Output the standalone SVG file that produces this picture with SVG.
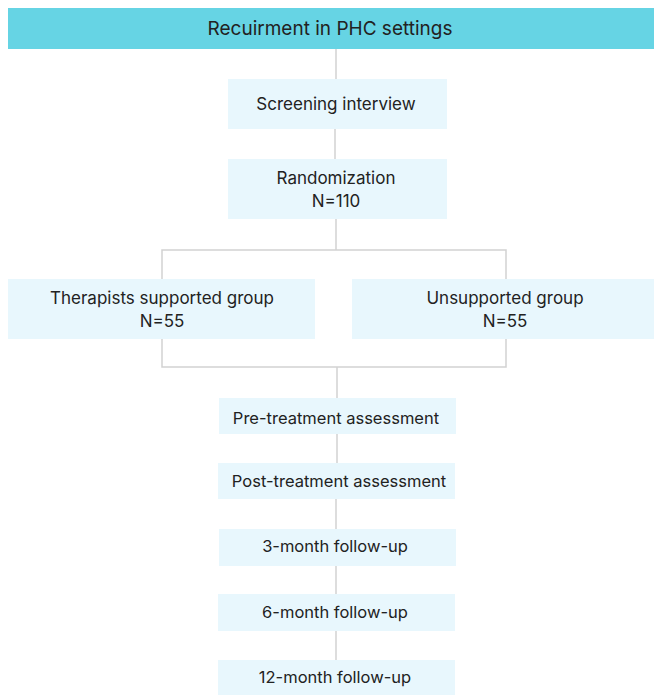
<svg xmlns="http://www.w3.org/2000/svg" width="654" height="695" viewBox="0 0 654 695">
<style>
.box{fill:#E8F7FD}
.top{fill:#66D4E4}
.t{font-family:Inter,"Noto Sans","Liberation Sans",sans-serif;fill:#222;text-anchor:middle}
.s17{font-size:17px}
.s16{font-size:16.5px}
.s18{font-size:19px}
.c{stroke:#D2D2D2;stroke-width:1.5;fill:none}
</style>
<rect width="654" height="695" fill="#fff"/>
<g id="connectors">
<path class="c" d="M336 49V79"/>
<path class="c" d="M335 129V159"/>
<path class="c" d="M336 219V250"/>
<path class="c" d="M162 279V250H506V279"/>
<path class="c" d="M162 339V367H506V339"/>
<path class="c" d="M337 367V398"/>
<path class="c" d="M337 434V463"/>
<path class="c" d="M336 499V529"/>
<path class="c" d="M336 566V594"/>
<path class="c" d="M336 631V660"/>
</g>
<g id="recruitment"><rect class="top" x="8" y="8" width="646" height="41"/><text class="t s18" x="330" y="35">Recuirment in PHC settings</text></g>
<g id="screening"><rect class="box" x="228" y="79" width="219" height="50"/><text class="t s17" x="336" y="110">Screening interview</text></g>
<g id="randomization"><rect class="box" x="228" y="159" width="219" height="60"/><text class="t s17" x="336" y="184">Randomization</text><text class="t s17" x="336" y="207">N=110</text></g>
<g id="supported"><rect class="box" x="8" y="279" width="307" height="60"/><text class="t s17" x="162" y="304">Therapists supported group</text><text class="t s17" x="162" y="327">N=55</text></g>
<g id="unsupported"><rect class="box" x="352" y="279" width="302" height="60"/><text class="t s17" x="505" y="304">Unsupported group</text><text class="t s17" x="505" y="327">N=55</text></g>
<g id="pre"><rect class="box" x="219" y="398" width="237" height="36"/><text class="t s16" x="336" y="424">Pre-treatment assessment</text></g>
<g id="post"><rect class="box" x="218" y="463" width="237" height="36"/><text class="t s16" x="339" y="487">Post-treatment assessment</text></g>
<g id="m3"><rect class="box" x="219" y="529" width="237" height="37"/><text class="t s16" x="335" y="552">3-month follow-up</text></g>
<g id="m6"><rect class="box" x="218" y="594" width="237" height="37"/><text class="t s16" x="335" y="618">6-month follow-up</text></g>
<g id="m12"><rect class="box" x="218" y="660" width="237" height="35"/><text class="t s16" x="335" y="683">12-month follow-up</text></g>
</svg>
